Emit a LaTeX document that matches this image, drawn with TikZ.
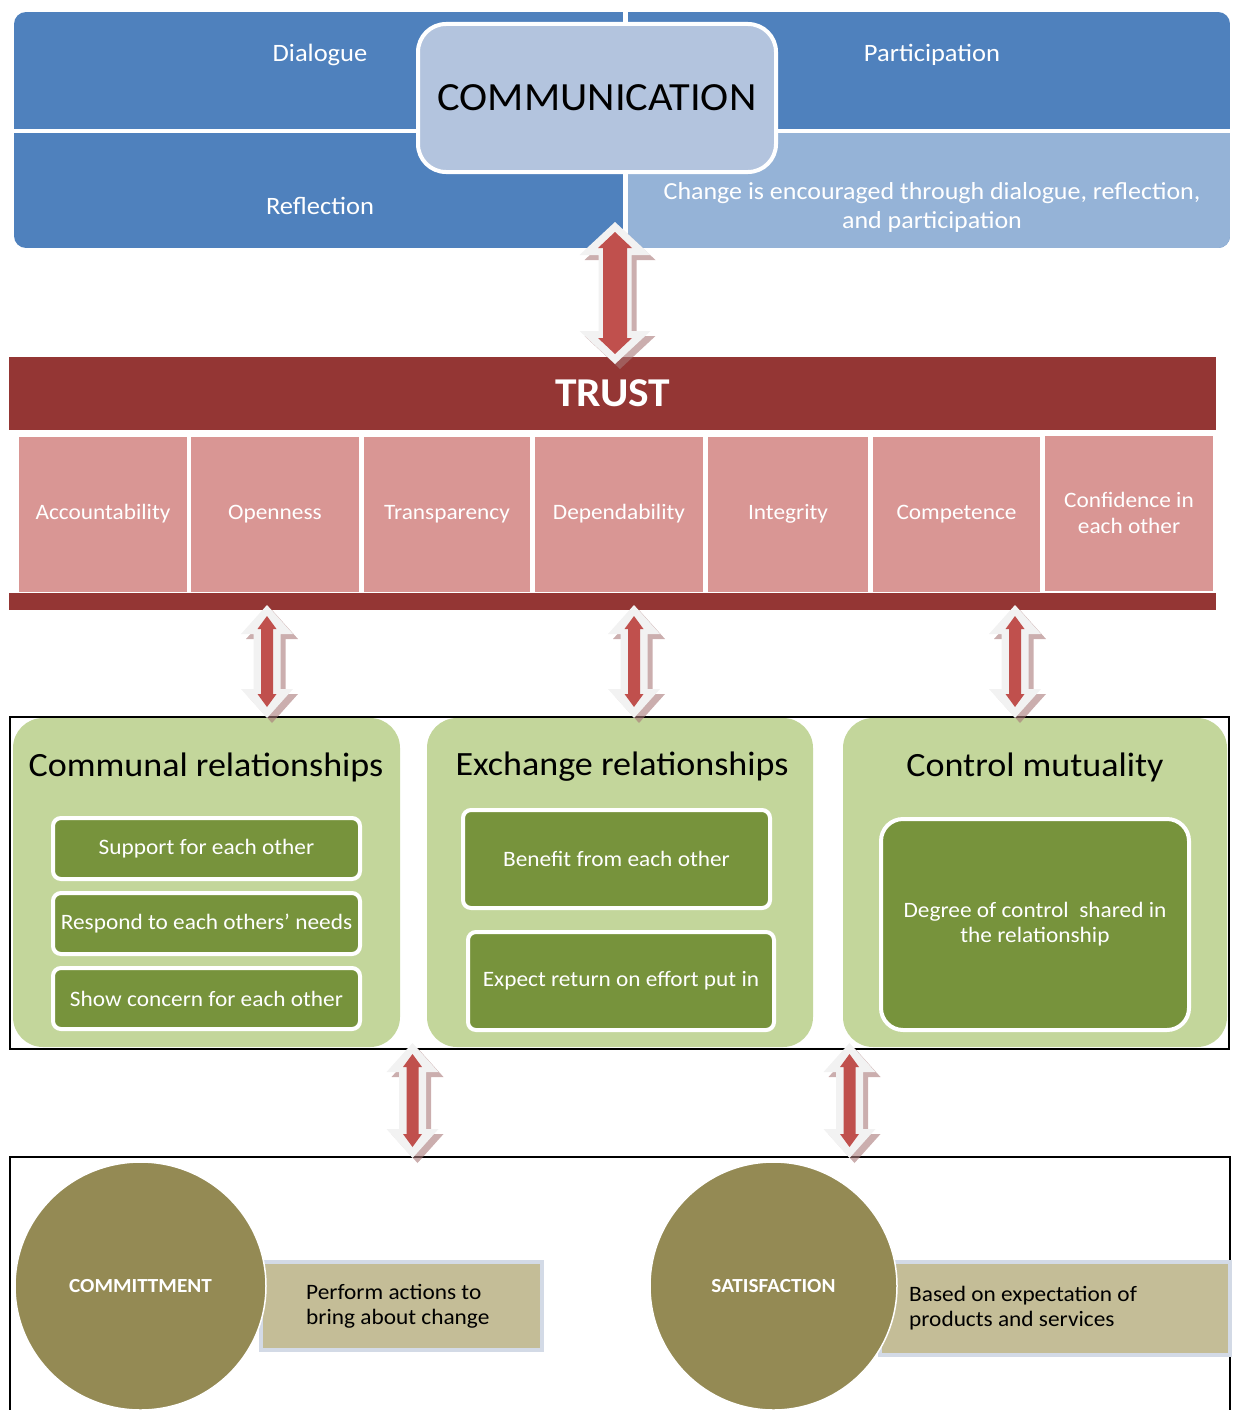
\documentclass[tikz,border=0pt]{standalone}
\usepackage{fontspec}
\setmainfont{Carlito}[FakeStretch=1.06]
\usetikzlibrary{shapes.geometric}
\definecolor{dblue}{HTML}{4F81BD}
\definecolor{lblue}{HTML}{95B3D7}
\definecolor{cblue}{HTML}{B3C4DE}
\definecolor{trustred}{HTML}{943634}
\definecolor{cellpink}{HTML}{D99694}
\definecolor{lgreen}{HTML}{C3D69B}
\definecolor{dgreen}{HTML}{77933C}
\definecolor{olivec}{HTML}{948A54}
\definecolor{tanc}{HTML}{C4BD97}
\definecolor{tanedge}{HTML}{D3DAE6}
\definecolor{arrred}{HTML}{C0504D}
\definecolor{arrwhite}{HTML}{F2F2F2}
\definecolor{arrshadow}{HTML}{A87878}
\newcommand\UDfill[7]{\fill[#1] (#2,#3) -- ({#2+#5},{#3+#6}) -- ({#2+#7},{#3+#6}) -- ({#2+#7},{#3+#4-#6}) -- ({#2+#5},{#3+#4-#6}) -- ({#2},{#3+#4}) -- ({#2-#5},{#3+#4-#6}) -- ({#2-#7},{#3+#4-#6}) -- ({#2-#7},{#3+#6}) -- ({#2-#5},{#3+#6}) -- cycle;}
\newcommand\UDarrow[9]{\begin{scope}[shift={(#1)}]
\UDfill{arrshadow,opacity=0.6}{5}{5}{#2}{#3}{#4}{#5}
\UDfill{arrwhite}{0}{0}{#2}{#3}{#4}{#5}
\UDfill{arrred}{0}{#9}{#2-2*#9}{#6}{#7}{#8}
\end{scope}}
\tikzset{
  wtext/.style={text=white, inner sep=0pt, font=\fontsize{25}{29}\selectfont, align=center},
  cell/.style={fill=cellpink, minimum height=155pt, inner sep=0pt, text=white, font=\fontsize{22}{26}\selectfont, align=center},
  gbox/.style={fill=lgreen, rounded corners=30pt, minimum width=386pt, minimum height=329pt, inner sep=0pt},
  gtitle/.style={text=black, inner sep=0pt, font=\fontsize{34}{40}\selectfont},
  ibox/.style={fill=dgreen, draw=white, line width=4pt, rounded corners=8pt, text=white, inner sep=0pt, font=\fontsize{22}{25}\selectfont, align=center},
  tanbox/.style={fill=tanc, draw=tanedge, line width=4pt, inner sep=0pt},
  circ/.style={ellipse, fill=olivec, draw=white, line width=1.5pt, inner sep=0pt, text=white, font=\bfseries\fontsize{20}{24}\selectfont},
  btext/.style={text=black, inner sep=0pt, font=\fontsize{22}{25}\selectfont, align=left, anchor=west},
  frame/.style={draw=black, line width=2pt, inner sep=0pt}
}
\begin{document}
\begin{tikzpicture}[x=1pt,y=-1pt]
\useasboundingbox (0,0) rectangle (1232,1410);
% ---------- COMMUNICATION ----------
\begin{scope}
\clip[rounded corners=12pt] (14,12) rectangle (1230,248);
\fill[dblue] (14,12) rectangle (1230,248);
\fill[lblue] (625,131) rectangle (1230,248);
\end{scope}
\draw[white, line width=4pt] (14,131) -- (1230,131);
\draw[white, line width=5pt] (625,10) -- (625,250);
\node[wtext] (dia) at (320,55) {Dialogue};
\node[wtext] (par) at (932,55) {Participation};
\node[wtext] (ref) at (320,206) {Reflection};
\node[wtext, font=\fontsize{24.5}{29}\selectfont] (chg) at (932,207) {Change is encouraged through dialogue, reflection,\\and participation};
\node[draw=white, line width=4pt, fill=cblue, rounded corners=28pt, minimum width=358pt, minimum height=148pt, inner sep=0pt, font=\fontsize{40}{48}\selectfont] (comm) at (597,98) {COMMUNICATION};
% ---------- TRUST ----------
\node[fill=trustred, minimum width=1207pt, minimum height=73pt, inner sep=0pt, text=white, font=\bfseries\fontsize{41}{50}\selectfont] (trust) at (612.5,393.5) {TRUST};
\node[fill=trustred, minimum width=1207pt, minimum height=17pt, inner sep=0pt] (tbar) at (612.5,601.5) {};
\node[cell, minimum width=168pt] (c1) at (103,514) {Accountability};
\node[cell, minimum width=168pt] (c2) at (275,514) {Openness};
\node[cell, minimum width=166pt] (c3) at (447,514) {Transparency};
\node[cell, minimum width=168pt] (c4) at (619,514) {Dependability};
\node[cell, minimum width=160pt] (c5) at (788,514) {Integrity};
\node[cell, minimum width=167pt] (c6) at (956.5,514) {Competence};
\node[cell, minimum width=168pt] (c7) at (1129,513) {Confidence in\\each other};
% ---------- RELATIONSHIPS ----------
\node[frame, minimum width=1219pt, minimum height=332pt] (midframe) at (619.5,883) {};
\node[gbox, minimum width=387pt] (g1) at (206.5,882.5) {};
\node[gbox] (g2) at (620,882.5) {};
\node[gbox, minimum width=384pt] (g3) at (1035,882.5) {};
\node[gtitle] (t1) at (206,767) {Communal relationships};
\node[gtitle] (t2) at (622,767) {Exchange relationships};
\node[gtitle] (t3) at (1035,767) {Control mutuality};
\node[ibox, minimum width=307pt, minimum height=61pt] (s1) at (206.5,848.5) {Support for each other};
\node[ibox, minimum width=307pt, minimum height=61pt] (s2) at (206.5,923.5) {Respond to each others' needs};
\node[ibox, minimum width=307pt, minimum height=61pt] (s3) at (206.5,998.5) {Show concern for each other};
\node[ibox, minimum width=307pt, minimum height=98pt] (e1) at (616.5,859) {Benefit from each other};
\node[ibox, minimum width=306pt, minimum height=98pt] (e2) at (621,981) {Expect return on effort put in};
\node[ibox, minimum width=308pt, minimum height=211pt, rounded corners=22pt] (m1) at (1035,924.5) {Degree of control~ shared in\\the relationship};
% ---------- OUTCOMES ----------
\node[frame, minimum width=1220pt, minimum height=263pt] (botframe) at (620,1288.5) {};
\node[tanbox, minimum width=281pt, minimum height=88pt] (r1) at (401.5,1306) {};
\node[tanbox, minimum width=350pt, minimum height=93pt] (r2) at (1055,1308.5) {};
\node[btext] (r1t) at (306,1306) {Perform actions to\\bring about change};
\node[btext] (r2t) at (909,1308.5) {Based on expectation of\\products and services};
\node[circ, minimum width=251pt, minimum height=248pt] (comt) at (140.5,1286) {COMMITTMENT};
\node[circ, minimum width=247pt, minimum height=248pt] (sat) at (773.5,1286) {SATISFACTION};
% ---------- ARROWS ----------
\coordinate (a1) at (615,222);
\coordinate (a2) at (267,605);
\coordinate (a3) at (634,605);
\coordinate (a4) at (1015,605);
\coordinate (a5) at (412.5,1043);
\coordinate (a6) at (849.5,1043);
\UDarrow{a1}{142}{35.5}{33}{16.5}{17}{16}{12}{10}
\UDarrow{a2}{113}{26}{29}{13.5}{9.5}{13}{6}{11}
\UDarrow{a3}{113}{26}{29}{13.5}{9.5}{13}{6}{11}
\UDarrow{a4}{113}{26}{29}{13.5}{9.5}{13}{6}{11}
\UDarrow{a5}{115}{26}{29}{13.5}{9.5}{13}{6}{11}
\UDarrow{a6}{115}{26}{29}{13.5}{9.5}{13}{6}{11}
\end{tikzpicture}
\end{document}
